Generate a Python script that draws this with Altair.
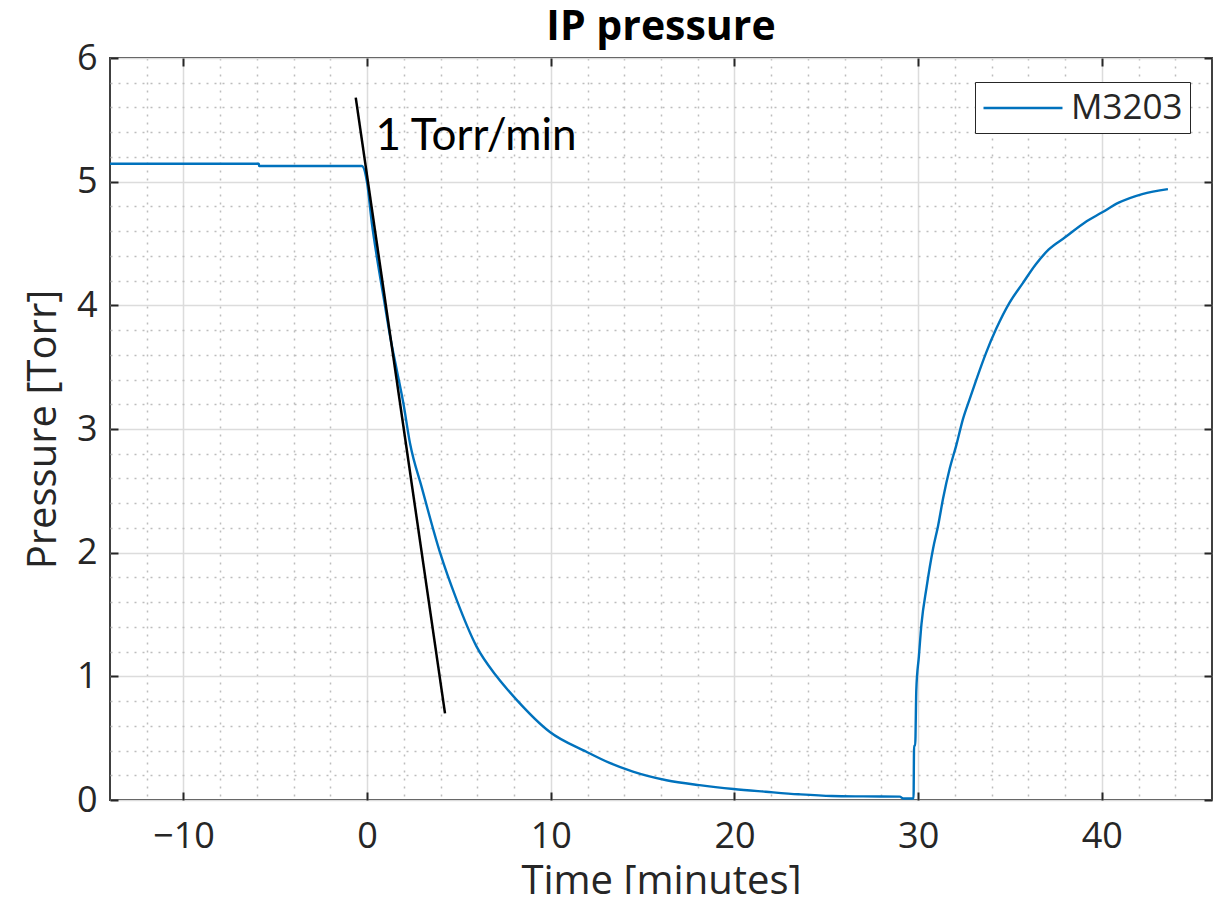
import altair as alt
import pandas as pd

# ---- data ----
time_min = [-14, -5.9, -5.88, -0.29, 0, 0.26, 0.53, 0.89, 1.25, 1.61, 1.97, 2.34, 2.97, 3.97,
            4.87, 5.96, 7.05, 8.14, 9.95, 11.94, 13.2, 14.47, 16.3, 18.1, 19.95, 21.7, 23.5,
            25.3, 27.0, 29.0, 29.2, 29.75, 29.78, 29.84, 29.9, 30.04, 30.18, 30.46, 30.81,
            31.09, 31.36, 31.72, 32.08, 32.44, 32.8, 33.17, 33.71, 34.25, 34.97, 35.7, 36.4,
            37.1, 38.0, 39.08, 40.0, 40.92, 42.2, 43.6]
pressure_torr = [5.145, 5.145, 5.127, 5.127, 4.99, 4.66, 4.39, 4.07, 3.75, 3.48, 3.21, 2.88,
                 2.53, 2.0, 1.62, 1.24, 1.0, 0.81, 0.55, 0.39, 0.30, 0.23, 0.16, 0.12, 0.089,
                 0.067, 0.046, 0.032, 0.029, 0.027, 0.012, 0.012, 0.44, 0.44, 0.89, 1.16, 1.42,
                 1.72, 2.03, 2.22, 2.44, 2.68, 2.87, 3.08, 3.24, 3.40, 3.62, 3.81, 4.02, 4.18,
                 4.33, 4.45, 4.55, 4.67, 4.75, 4.83, 4.90, 4.94]
series_name = "M3203"

tangent_time = [-0.62, 4.24]
tangent_pressure = [5.68, 0.70]

annotation_text = ["1 Torr/min"]
annotation_time = [0.45]
annotation_pressure = [5.26]

chart_title = ["IP pressure"]

x_major = [-10, 0, 10, 20, 30, 40]
x_minor = [v for v in range(-12, 46, 2) if v % 10 != 0]
y_major = [0, 1, 2, 3, 4, 5, 6]
y_minor = [round(i * 0.2, 1) for i in range(1, 30) if i % 5 != 0]

# ---- styling ----
W, H = 1102, 742
FONT = "Open Sans"
INK = "#262626"
BLUE = "#0072BD"
X_DOMAIN = [-14, 46]
Y_DOMAIN = [0, 6]

df = pd.DataFrame({"t": time_min, "p": pressure_torr,
                   "i": list(range(len(time_min))), "series": series_name})
tan_df = pd.DataFrame({"t": tangent_time, "p": tangent_pressure})
note_df = pd.DataFrame({"t": annotation_time, "p": annotation_pressure, "label": annotation_text})
title_df = pd.DataFrame({"t": [(X_DOMAIN[0] + X_DOMAIN[1]) / 2], "p": [Y_DOMAIN[1]],
                         "label": chart_title})

xs = alt.Scale(domain=X_DOMAIN, nice=False, zero=False)
ys = alt.Scale(domain=Y_DOMAIN, nice=False, zero=False)

# minor dotted grid
minor = alt.Chart(df).mark_line(opacity=0).encode(
    x=alt.X("t:Q", scale=xs, title=None,
            axis=alt.Axis(orient="bottom", values=x_minor, grid=True, gridColor="#bdbdbd",
                          gridDash=[2, 6], gridWidth=1.5, labels=False, ticks=False,
                          domain=False)),
    y=alt.Y("p:Q", scale=ys, title=None,
            axis=alt.Axis(orient="left", values=y_minor, grid=True, gridColor="#bdbdbd",
                          gridDash=[2, 6], gridWidth=1.5, labels=False, ticks=False,
                          domain=False)),
    order="i:Q",
)

# main series: solid major grid + legend
line = alt.Chart(df).mark_line(strokeWidth=2.4, interpolate="monotone").encode(
    x=alt.X("t:Q", scale=xs, title=None,
            axis=alt.Axis(orient="bottom", values=x_major, grid=True, gridColor="#dcdcdc",
                          gridWidth=1.5, ticks=False, labels=False, domain=False)),
    y=alt.Y("p:Q", scale=ys, title=None,
            axis=alt.Axis(orient="left", values=y_major, grid=True, gridColor="#dcdcdc",
                          gridWidth=1.5, ticks=False, labels=False, domain=False)),
    color=alt.Color("series:N", scale=alt.Scale(domain=[series_name], range=[BLUE]),
                    legend=alt.Legend(orient="none", legendX=865, legendY=24, title=None,
                                      symbolType="M-1,0H3.514", symbolSize=1225,
                                      symbolStrokeWidth=2.4, labelFont=FONT,
                                      labelFontSize=35, labelColor=INK, labelOffset=51,
                                      padding=7, strokeColor=INK, fillColor="white",
                                      cornerRadius=0)),
    order="i:Q",
)

# labelled axes, offset outward so labels sit below / left of the frame
labels = alt.Chart(df).mark_line(opacity=0).encode(
    x=alt.X("t:Q", scale=xs, title="Time [minutes]",
            axis=alt.Axis(orient="bottom", offset=19, values=x_major, grid=False,
                          ticks=False, domain=False, labelPadding=0, labelBaseline="top",
                          labelFont=FONT, labelFontSize=36, labelColor=INK,
                          titleFont=FONT, titleFontSize=40, titleFontWeight="normal",
                          titleColor=INK, titleBaseline="alphabetic", titleY=74,
                          titleX=W / 2)),
    y=alt.Y("p:Q", scale=ys, title="Pressure [Torr]",
            axis=alt.Axis(orient="left", offset=13, values=y_major, grid=False,
                          ticks=False, domain=False, labelPadding=0,
                          labelFont=FONT, labelFontSize=36, labelColor=INK,
                          titleFont=FONT, titleFontSize=40, titleFontWeight="normal",
                          titleColor=INK, titleBaseline="alphabetic", titleAngle=270,
                          titleX=-42, titleY=H / 2)),
)

tangent = alt.Chart(tan_df).mark_line(color="black", strokeWidth=2.5).encode(
    x=alt.X("t:Q", scale=xs, axis=None),
    y=alt.Y("p:Q", scale=ys, axis=None),
)

note = alt.Chart(note_df).mark_text(align="left", baseline="alphabetic", font="Lato",
                                    fontSize=44, color="black").encode(
    x=alt.X("t:Q", scale=xs, axis=None),
    y=alt.Y("p:Q", scale=ys, axis=None),
    text="label:N",
)

title = alt.Chart(title_df).mark_text(align="center", baseline="alphabetic", font=FONT,
                                      fontSize=41, fontWeight="bold", color="black",
                                      dy=-18).encode(
    x=alt.X("t:Q", scale=xs, axis=None),
    y=alt.Y("p:Q", scale=ys, axis=None),
    text="label:N",
)

# inward ticks on bottom/left
ticks_in = alt.Chart(df).mark_line(opacity=0).encode(
    x=alt.X("t:Q", scale=xs, title=None,
            axis=alt.Axis(orient="bottom", offset=-8, values=x_major, tickSize=8,
                          tickColor=INK, tickWidth=2, labels=False, domain=False, grid=False)),
    y=alt.Y("p:Q", scale=ys, title=None,
            axis=alt.Axis(orient="left", offset=-8, values=y_major, tickSize=8,
                          tickColor=INK, tickWidth=2, labels=False, domain=False, grid=False)),
)

# mirrored inward ticks on top/right
ticks_mirror = alt.Chart(df).mark_line(opacity=0).encode(
    x=alt.X("t:Q", scale=xs, title=None,
            axis=alt.Axis(orient="top", offset=-8, values=x_major, tickSize=8,
                          tickColor=INK, tickWidth=2, labels=False, domain=False, grid=False)),
    y=alt.Y("p:Q", scale=ys, title=None,
            axis=alt.Axis(orient="right", offset=-8, values=y_major, tickSize=8,
                          tickColor=INK, tickWidth=2, labels=False, domain=False, grid=False)),
)

chart = alt.layer(minor, line, tangent, note, title, labels, ticks_in, ticks_mirror).resolve_axis(
    x="independent", y="independent"
).properties(
    width=W, height=H,
    autosize=alt.AutoSizeParams(type="none"),
    padding={"left": 102, "top": 50, "right": 5, "bottom": 94},
).configure_view(stroke="#404040", strokeWidth=2)

chart.save("out.html", embed_options={"renderer": "svg", "actions": False})
